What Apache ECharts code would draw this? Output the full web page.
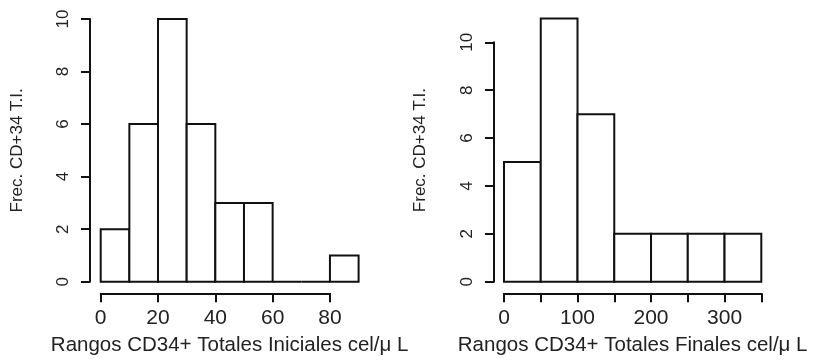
<!DOCTYPE html>
<html>
<head>
<meta charset="utf-8">
<script src="https://cdn.jsdelivr.net/npm/echarts@6/dist/echarts.min.js"></script>
<style>html,body{margin:0;padding:0;background:#fff;}#c{width:814px;height:362px;}</style>
</head>
<body>
<div id="c"></div>
<script>
// Left histogram: bin edges and counts
const leftEdges = [0, 10, 20, 30, 40, 50, 60, 70, 80, 90];
const leftCounts = [2, 6, 10, 6, 3, 3, 0, 0, 1];
// Right histogram
const rightEdges = [0, 50, 100, 150, 200, 250, 300, 350];
const rightCounts = [5, 11, 7, 2, 2, 2, 2];
// Axis texts
const yTitle = 'Frec. CD+34 T.I.';
const leftXTitle = 'Rangos CD34+ Totales Iniciales cel/\u03bc L';
const rightXTitle = 'Rangos CD34+ Totales Finales cel/\u03bc L';
const leftXTicks = [0, 20, 40, 60, 80];
const rightXTickLabels = [0, 100, 200, 300];
const yTicks = [0, 2, 4, 6, 8, 10];

const FONT = 'Liberation Sans, Arial, Helvetica, sans-serif';
const INK = '#111';

function bins(edges, counts) {
  return counts.map((c, i) => [edges[i], edges[i + 1], c]);
}

function renderRect(params, api) {
  const p0 = api.coord([api.value(0), 0]);
  const p1 = api.coord([api.value(1), api.value(2)]);
  return {
    type: 'polygon',
    shape: { points: [[p0[0], p0[1]], [p0[0], p1[1]], [p1[0], p1[1]], [p1[0], p0[1]]] },
    style: { fill: '#fff', stroke: INK, lineWidth: 2 }
  };
}

const hidden = () => ({
  axisLine: { show: false }, axisTick: { show: false }, axisLabel: { show: false }, splitLine: { show: false }
});

function tickAxisX(grid, max, interval, labels) {
  return {
    type: 'value', gridIndex: grid, min: 0, max: max, interval: interval,
    axisLine: { show: true, lineStyle: { color: INK, width: 2 } },
    axisTick: { show: true, length: 9, lineStyle: { color: INK, width: 2 } },
    axisLabel: {
      fontSize: 21, color: '#222', fontFamily: FONT, margin: 14,
      formatter: v => labels.indexOf(v) >= 0 ? String(v) : ''
    },
    splitLine: { show: false }
  };
}
function tickAxisY(grid) {
  return {
    type: 'value', gridIndex: grid, min: 0, max: 10, interval: 2,
    axisLine: { show: true, lineStyle: { color: INK, width: 2 } },
    axisTick: { show: true, length: 9, lineStyle: { color: INK, width: 2 } },
    axisLabel: {
      fontSize: 17, color: '#222', fontFamily: FONT, margin: 18, rotate: 90,
      formatter: v => yTicks.indexOf(v) >= 0 ? String(v) : ''
    },
    splitLine: { show: false }
  };
}
const nameX = (grid, max, title) => Object.assign({
  type: 'value', gridIndex: grid, min: 0, max: max, name: title, nameLocation: 'middle', nameGap: 53,
  nameTextStyle: { fontSize: 20.5, color: '#222', fontFamily: FONT }
}, hidden());
const nameY = (grid, max) => Object.assign({
  type: 'value', gridIndex: grid, min: 0, max: max, name: yTitle, nameLocation: 'middle', nameGap: 75,
  nameTextStyle: { fontSize: 17, color: '#222', fontFamily: FONT }
}, hidden());
const plain = (grid) => Object.assign({ type: 'value', gridIndex: grid, min: 0, max: 1 }, hidden());

const chart = echarts.init(document.getElementById('c'), null, { renderer: 'canvas' });
chart.setOption({
  animation: false,
  backgroundColor: '#fff',
  grid: [
    // 0 left bars
    { left: 100.7, top: 19, width: 257.9, height: 262.7, outerBoundsMode: 'none' },
    // 1 left x axis (detached below)
    { left: 100.7, top: 19, width: 229.3, height: 274.3, outerBoundsMode: 'none' },
    // 2 left y axis (detached to the left)
    { left: 90, top: 19, width: 100, height: 262.7, outerBoundsMode: 'none' },
    // 3 right bars
    { left: 504, top: 18.4, width: 257.3, height: 263.3, outerBoundsMode: 'none' },
    // 4 right x axis
    { left: 504, top: 19, width: 257.3, height: 274.3, outerBoundsMode: 'none' },
    // 5 right y axis
    { left: 494, top: 42.3, width: 100, height: 239.4, outerBoundsMode: 'none' }
  ],
  xAxis: [
    nameX(0, 90, leftXTitle),
    tickAxisX(1, 80, 20, leftXTicks),
    plain(2),
    nameX(3, 350, rightXTitle),
    tickAxisX(4, 350, 50, rightXTickLabels),
    plain(5)
  ],
  yAxis: [
    nameY(0, 10),
    plain(1),
    tickAxisY(2),
    nameY(3, 11),
    plain(4),
    tickAxisY(5)
  ],
  series: [
    { type: 'custom', xAxisIndex: 0, yAxisIndex: 0, clip: false, renderItem: renderRect,
      encode: { x: [0, 1], y: 2 }, data: bins(leftEdges, leftCounts) },
    { type: 'custom', xAxisIndex: 3, yAxisIndex: 3, clip: false, renderItem: renderRect,
      encode: { x: [0, 1], y: 2 }, data: bins(rightEdges, rightCounts) }
  ]
});
</script>
</body>
</html>
